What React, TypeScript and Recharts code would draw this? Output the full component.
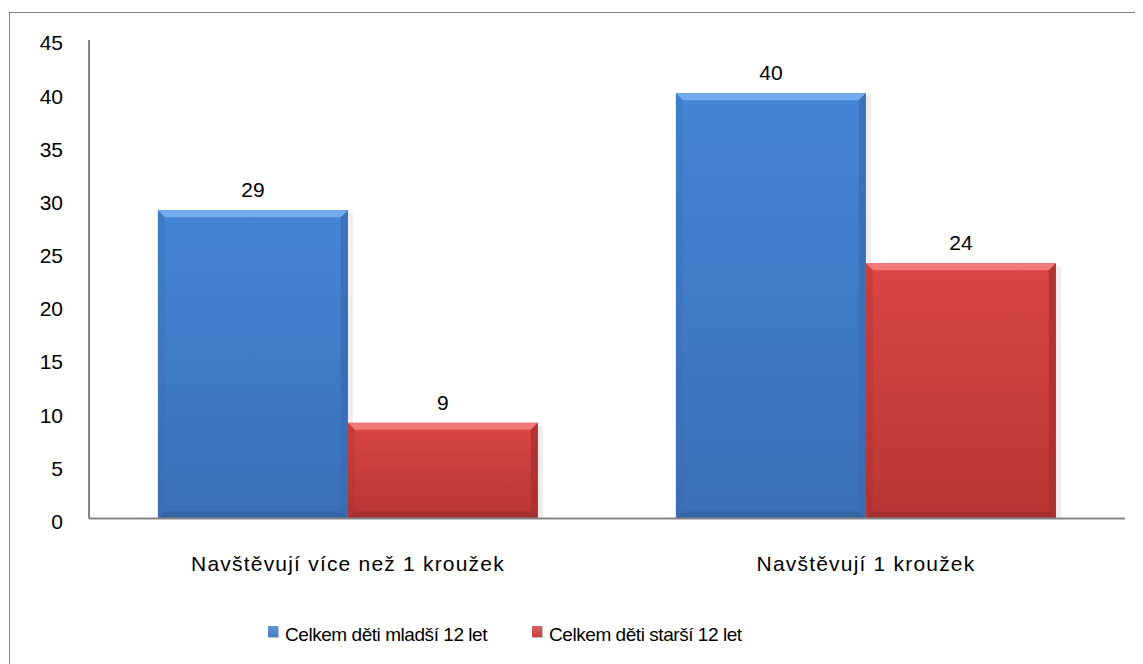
import { BarChart, Bar, XAxis, YAxis, Legend, LabelList } from "recharts";

const categories = ["Navštěvují více než 1 kroužek", "Navštěvují 1 kroužek"];
const mladsi = [29, 40];
const starsi = [9, 24];
const yTicks = [0, 5, 10, 15, 20, 25, 30, 35, 40, 45];

const data = categories.map((name, i) => ({
  name,
  mladsi: mladsi[i],
  starsi: starsi[i],
}));

const FONT = "'Liberation Sans', Arial, sans-serif";

const palettes: Record<string, { top: string; side: string; bottom: string; grad: string }> = {
  blue: { top: "#74abec", side: "#3a6db1", bottom: "#335f9c", grad: "gradBlue" },
  red: { top: "#f07a78", side: "#a93131", bottom: "#9a2c2c", grad: "gradRed" },
};

function BevelBar(props: any) {
  const { x, y, width, height, tone } = props;
  if (!height || height <= 0) return null;
  const p = palettes[tone];
  const b = Math.min(7, height / 2);
  return (
    <g>
      <rect x={x + width} y={y + 3} width={5} height={height - 3} fill="#000" opacity={0.07} />
      <rect x={x} y={y} width={width} height={height} fill={`url(#${p.grad})`} />
      <polygon points={`${x},${y} ${x + width},${y} ${x + width - b},${y + b} ${x + b},${y + b}`} fill={p.top} />
      <polygon points={`${x + width},${y} ${x + width},${y + height} ${x + width - b},${y + height - b} ${x + width - b},${y + b}`} fill={p.side} opacity={0.8} />
      <polygon points={`${x},${y} ${x + b},${y + b} ${x + b},${y + height - b} ${x},${y + height}`} fill={p.side} opacity={0.35} />
      <polygon points={`${x},${y + height} ${x + width},${y + height} ${x + width - b},${y + height - b} ${x + b},${y + height - b}`} fill={p.bottom} opacity={0.7} />
    </g>
  );
}

const legendColors: Record<string, string> = { mladsi: "#3f7cc9", starsi: "#c83c3c" };

function LegendContent(props: any) {
  const items = props.payload || [];
  return (
    <div style={{ display: "flex", justifyContent: "flex-start", paddingLeft: 260, fontFamily: FONT, fontSize: 19, letterSpacing: -0.45, color: "#000" }}>
      {items.map((it: any, i: number) => (
        <div key={i} style={{ display: "flex", alignItems: "center", marginRight: 45 }}>
          <span
            style={{
              display: "inline-block",
              width: 10,
              height: 11,
              marginRight: 7,
              marginTop: -8,
              background: `linear-gradient(${legendColors[it.dataKey]}cc, ${legendColors[it.dataKey]})`,
              boxShadow: "1px 1px 1px rgba(0,0,0,0.25)",
            }}
          />
          <span>{it.value}</span>
        </div>
      ))}
    </div>
  );
}

export default function App() {
  return (
    <div style={{ position: "relative", width: 1135, height: 656, overflow: "hidden" }}>
      <div
        style={{
          position: "absolute",
          left: 1,
          top: 4,
          width: 1200,
          height: 700,
          borderLeft: "1px solid #868686",
          borderTop: "1px solid #868686",
        }}
      />
      <BarChart
        width={1135}
        height={656}
        data={data}
        margin={{ top: 32, right: 18, bottom: 16, left: 0 }}
        barCategoryGap="13.3%"
        barGap={0}
        style={{ position: "absolute", left: 0, top: 0, fontFamily: FONT }}
      >
        <defs>
          <linearGradient id="gradBlue" x1="0" y1="0" x2="0" y2="1">
            <stop offset="0%" stopColor="#4486d6" />
            <stop offset="100%" stopColor="#3b70b7" />
          </linearGradient>
          <linearGradient id="gradRed" x1="0" y1="0" x2="0" y2="1">
            <stop offset="0%" stopColor="#da4644" />
            <stop offset="100%" stopColor="#b83634" />
          </linearGradient>
        </defs>
        <XAxis
          dataKey="name"
          height={105.5}
          tickSize={0}
          tickMargin={38}
          axisLine={{ stroke: "#868686", strokeWidth: 2 }}
          tick={{ fontSize: 21, fill: "#000", fontFamily: FONT, letterSpacing: 1.2 }}
        />
        <YAxis
          width={81}
          domain={[0, 45]}
          ticks={yTicks}
          interval={0}
          tickSize={0}
          tickMargin={26}
          axisLine={{ stroke: "#868686", strokeWidth: 2 }}
          tick={{ fontSize: 21, fill: "#000", fontFamily: FONT, dy: 3 }}
        />
        <Legend verticalAlign="bottom" height={24} content={LegendContent} />
        <Bar dataKey="mladsi" name="Celkem děti mladší 12 let" fill="#3f7cc9" isAnimationActive={false} shape={(p: any) => <BevelBar {...p} tone="blue" />}>
          <LabelList dataKey="mladsi" position="top" offset={13} style={{ fontSize: 21, fill: "#000", fontFamily: FONT }} />
        </Bar>
        <Bar dataKey="starsi" name="Celkem děti starší 12 let" fill="#c83c3c" isAnimationActive={false} shape={(p: any) => <BevelBar {...p} tone="red" />}>
          <LabelList dataKey="starsi" position="top" offset={13} style={{ fontSize: 21, fill: "#000", fontFamily: FONT }} />
        </Bar>
      </BarChart>
    </div>
  );
}
